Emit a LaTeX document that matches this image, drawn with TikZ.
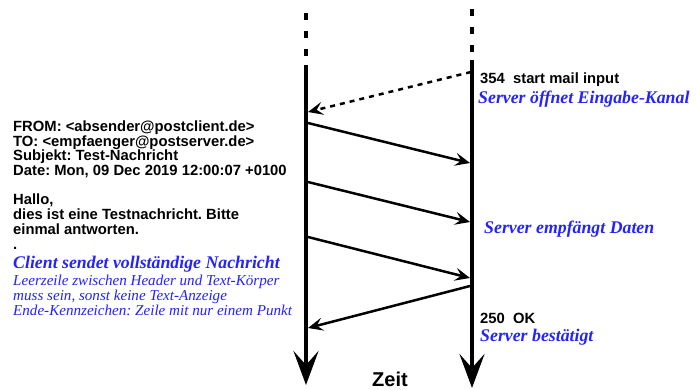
\documentclass[tikz,border=0pt]{standalone}
\usepackage{fontspec}
\setmainfont{Liberation Serif}
\setsansfont{Liberation Sans}
\usetikzlibrary{arrows.meta}
\definecolor{lblue}{RGB}{35,35,250}
\frenchspacing
\begin{document}
\begin{tikzpicture}[x=1pt,y=-1pt,
  timeline/.style={line width=4pt,-{Stealth[length=34pt,width=25pt,inset=14pt]}},
  topdots/.style={line width=4pt,dash pattern=on 7pt off 11pt},
  msg/.style={line width=2.5pt,-{Stealth[length=15pt,width=13pt,inset=6pt]}},
  reply/.style={msg,dash pattern=on 5pt off 5pt},
  blk/.style={inner sep=0pt,font=\frenchspacing\sffamily\bfseries\fontsize{14.8}{14.7}\selectfont,align=left},
  bluebig/.style={inner sep=0pt,text=lblue,font=\frenchspacing\rmfamily\bfseries\itshape\fontsize{17.8}{17}\selectfont,align=left},
  bluesmall/.style={inner sep=0pt,text=lblue,font=\frenchspacing\rmfamily\itshape\fontsize{15.1}{15}\selectfont,align=left}]
\useasboundingbox (0,0) rectangle (697,389);
% time lines
\coordinate (cDotTop) at (306,13);
\coordinate (cDotBot) at (306,57);
\coordinate (cTop) at (306,65);
\coordinate (cBot) at (306,385);
\coordinate (sDotTop) at (472,9);
\coordinate (sDotBot) at (472,53);
\coordinate (sTop) at (472,60);
\coordinate (sBot) at (472,388);
\draw[topdots] (cDotTop) -- (cDotBot);
\draw[topdots] (sDotTop) -- (sDotBot);
\draw[timeline] (cTop) -- (cBot);
\draw[timeline] (sTop) -- (sBot);
% messages
\coordinate (s0) at (471,72);  \coordinate (c0) at (308,112);
\coordinate (c1) at (308,123); \coordinate (s1) at (470,163);
\coordinate (c2) at (308,182); \coordinate (s2) at (470,222);
\coordinate (c3) at (308,237); \coordinate (s3) at (470,278);
\coordinate (s4) at (470,286); \coordinate (c4) at (308,328);
\draw[reply] (s0) -- (c0);
\draw[msg] (c1) -- (s1);
\draw[msg] (c2) -- (s2);
\draw[msg] (c3) -- (s3);
\draw[msg] (s4) -- (c4);
% texts left (base anchor = baseline of the last line)
\node[blk,anchor=base west] (header) at (13,249) {FROM: <absender@postclient.de>\\TO: <empfaenger@postserver.de>\\Subjekt: Test-Nachricht\\Date: Mon, 09 Dec 2019 12:00:07 +0100\\[14.7pt]Hallo,\\dies ist eine Testnachricht. Bitte\\einmal antworten.\\.};
\node[bluebig,anchor=base west] (clienttitle) at (13,268) {Client sendet vollständige Nachricht};
\node[bluesmall,anchor=base west] (clientnote) at (13,315) {Leerzeile zwischen Header und Text-Körper\\muss sein, sonst keine Text-Anzeige\\Ende-Kennzeichen: Zeile mit nur einem Punkt};
% texts right
\node[blk,anchor=base west] (r354) at (480,83) {354\ \ start mail input};
\node[bluebig,anchor=base west] (ropen) at (478,103) {Server öffnet Eingabe-Kanal};
\node[bluebig,anchor=base west] (rdata) at (484,233) {Server empfängt Daten};
\node[blk,anchor=base west] (r250) at (480,323) {250\ \ OK};
\node[bluebig,anchor=base west] (rack) at (480,341) {Server bestätigt};
\node[inner sep=0pt,anchor=base,font=\sffamily\bfseries\fontsize{20}{22}\selectfont] (zeit) at (390,386) {Zeit};
\end{tikzpicture}
\end{document}
